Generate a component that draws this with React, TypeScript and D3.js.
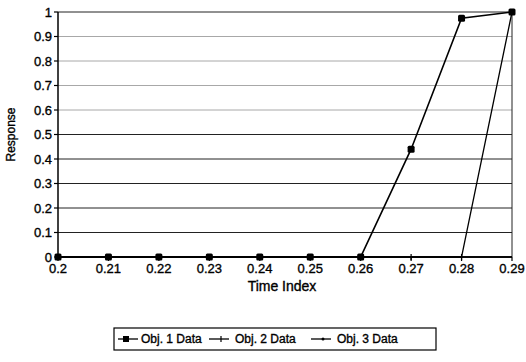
import React from "react";
import * as d3 from "d3";

// Sample times and the three response series
const timeIndex = [0.2, 0.21, 0.22, 0.23, 0.24, 0.25, 0.26, 0.27, 0.28, 0.29];
const obj1Data = [0, 0, 0, 0, 0, 0, 0, 0.44, 0.975, 1.0];
const obj2Data = [0, 0, 0, 0, 0, 0, 0, 0, 0, 1.0];
const obj3Data = [0, 0, 0, 0, 0, 0, 0, 0, 0, 0];

const xTicks = [0.2, 0.21, 0.22, 0.23, 0.24, 0.25, 0.26, 0.27, 0.28, 0.29];
const yTicks = [0, 0.1, 0.2, 0.3, 0.4, 0.5, 0.6, 0.7, 0.8, 0.9, 1];
const seriesNames = ["Obj. 1 Data", "Obj. 2 Data", "Obj. 3 Data"];

const W = 526;
const H = 362;
const left = 58;
const right = 512;
const top = 12;
const bottom = 257;
const FONT = "'Liberation Sans', Arial, sans-serif";

export default function App() {
  const x = d3.scaleLinear().domain([0.2, 0.29]).range([left, right]);
  const y = d3.scaleLinear().domain([0, 1]).range([bottom, top]);

  const line = (vals: number[]) =>
    d3
      .line<number>()
      .x((_, i) => x(timeIndex[i]))
      .y((v) => y(v))(vals) || "";

  const fmt = (v: number) => (v === 0 ? "0" : v === 1 ? "1" : String(+v.toFixed(2)));

  const legendY = 339;
  const legendItems = [
    { sx: 118, tx: 141, kind: "square" },
    { sx: 209, tx: 235, kind: "tick" },
    { sx: 311, tx: 337, kind: "dot" },
  ];

  const textStyle = { stroke: "#000", strokeWidth: 0.35 };

  return (
    <div style={{ position: "fixed", left: 0, top: 0, background: "#fff" }}>
      <svg width={W} height={H} style={{ display: "block", fontFamily: FONT }}>
        <rect width={W} height={H} fill="#fff" />

        {/* horizontal gridlines */}
        {yTicks.map((t) => (
          <line
            key={"g" + t}
            x1={left}
            x2={right}
            y1={y(t)}
            y2={y(t)}
            stroke={t >= 0.6 && t < 1 ? "#a8a8a8" : "#222"}
            strokeWidth={1}
          />
        ))}

        {/* frame */}
        <line x1={right} x2={right} y1={top} y2={bottom} stroke="#222" strokeWidth={1} />
        <line x1={left} x2={left} y1={top} y2={bottom} stroke="#000" strokeWidth={1.5} />
        <line x1={left} x2={right} y1={bottom} y2={bottom} stroke="#000" strokeWidth={1.5} />

        {/* y axis ticks and labels */}
        {yTicks.map((t) => (
          <g key={"y" + t}>
            <line x1={left - 4} x2={left} y1={y(t)} y2={y(t)} stroke="#000" strokeWidth={1.2} />
            <text
              x={left - 6}
              y={y(t)}
              dy="0.35em"
              textAnchor="end"
              fontSize={13}
              fill="#000"
              style={textStyle}
            >
              {fmt(t)}
            </text>
          </g>
        ))}

        {/* x axis ticks and labels */}
        {xTicks.map((t) => (
          <g key={"x" + t}>
            <line x1={x(t)} x2={x(t)} y1={bottom} y2={bottom + 4} stroke="#000" strokeWidth={1.2} />
            <text
              x={x(t)}
              y={bottom + 16}
              textAnchor="middle"
              fontSize={13}
              fill="#000"
              style={textStyle}
            >
              {fmt(t)}
            </text>
          </g>
        ))}

        <text
          x={(left + right) / 2 - 3}
          y={291}
          textAnchor="middle"
          fontSize={14}
          fill="#000"
          style={textStyle}
        >
          Time Index
        </text>
        <text
          transform={`translate(15,${(top + bottom) / 2}) rotate(-90)`}
          textAnchor="middle"
          fontSize={12}
          fill="#000"
          style={textStyle}
        >
          Response
        </text>

        {/* series */}
        <path d={line(obj3Data)} fill="none" stroke="#000" strokeWidth={1.3} />
        <path d={line(obj2Data)} fill="none" stroke="#000" strokeWidth={1.3} />
        {obj2Data.map((v, i) => (
          <line
            key={"m2" + i}
            x1={x(timeIndex[i])}
            x2={x(timeIndex[i])}
            y1={y(v) - 3}
            y2={y(v) + 3}
            stroke="#000"
            strokeWidth={1.2}
          />
        ))}
        <path d={line(obj1Data)} fill="none" stroke="#000" strokeWidth={1.6} />
        {obj1Data.map((v, i) => (
          <rect
            key={"m1" + i}
            x={x(timeIndex[i]) - 3.5}
            y={y(v) - 3.5}
            width={7}
            height={7}
            rx={1.5}
            fill="#000"
          />
        ))}

        {/* legend */}
        <rect x={114} y={328} width={322} height={22} fill="#fff" stroke="#000" strokeWidth={1.2} />
        {legendItems.map((it, i) => (
          <g key={"l" + i}>
            <line x1={it.sx} x2={it.sx + 20} y1={legendY} y2={legendY} stroke="#000" strokeWidth={1.3} />
            {it.kind === "square" && (
              <rect x={it.sx + 5} y={legendY - 3} width={6} height={6} fill="#000" />
            )}
            {it.kind === "tick" && (
              <line x1={it.sx + 12} x2={it.sx + 12} y1={legendY - 3} y2={legendY + 3} stroke="#000" strokeWidth={1.2} />
            )}
            {it.kind === "dot" && <circle cx={it.sx + 12} cy={legendY} r={1.5} fill="#000" />}
            <text x={it.tx} y={legendY} dy="0.35em" fontSize={12} fill="#000" style={textStyle}>
              {seriesNames[i]}
            </text>
          </g>
        ))}
      </svg>
    </div>
  );
}
